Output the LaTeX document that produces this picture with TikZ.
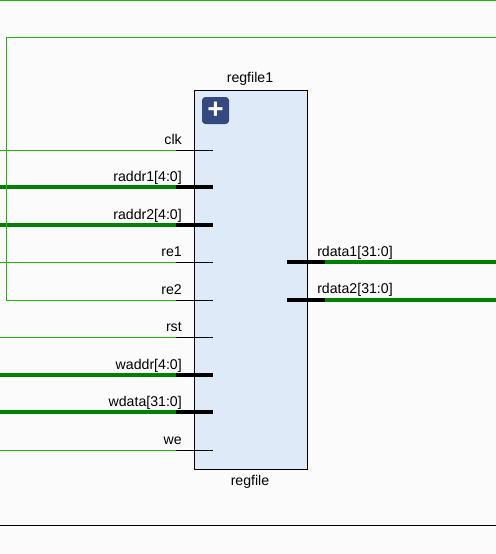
\documentclass[tikz,border=0pt]{standalone}
\usepackage{xcolor}
\usepackage{fontspec}
\setmainfont{Liberation Sans}
\usetikzlibrary{positioning, calc}
\definecolor{canvas}{HTML}{FBFBFB}
\definecolor{blockfill}{HTML}{DFEAF9}
\definecolor{iconblue}{HTML}{34497F}
\definecolor{netgreen}{HTML}{1FB80A}
\definecolor{busgreen}{HTML}{008000}
\begin{document}
\begin{tikzpicture}[
  x=0.75pt, y=-0.75pt,
  block/.style={rectangle, draw=black, fill=blockfill, line width=0.75pt,
                minimum width=84.75pt, minimum height=284.25pt, inner sep=0pt},
  icon/.style={rectangle, rounded corners=2.5pt, fill=iconblue, text=white,
               minimum size=20.25pt, inner sep=0pt, font=\fontsize{21}{21}\selectfont\bfseries},
  blocklabel/.style={font=\fontsize{10.6}{12}\selectfont, text=black, anchor=base, inner sep=0pt},
  inlabel/.style={font=\fontsize{10.6}{12}\selectfont, text=black, anchor=base east, inner sep=0pt},
  outlabel/.style={font=\fontsize{10.6}{12}\selectfont, text=black, anchor=base west, inner sep=0pt},
  net/.style={draw=netgreen, line width=0.75pt},
  bus/.style={draw=busgreen, line width=3pt},
  pin/.style={draw=black, line width=0.75pt},
  buspin/.style={draw=black, line width=3pt},
  frameline/.style={draw=black, line width=0.75pt},
]
\fill[canvas] (0,0) rectangle (496,554);
\useasboundingbox (0,0) rectangle (496,554);
\coordinate (edgeL) at (0,0);
\coordinate (edgeR) at (496,0);
\coordinate (stubL) at (176,0);
\coordinate (tipL)  at (213,0);
\coordinate (stubR) at (325,0);
\coordinate (tipR)  at (287,0);
\coordinate (bend)  at (6.5,37.5);
\node[block] (regfile1) at (251,280.25) {};
\node[icon] (plus) at (215.5,110.5) {+};
\node[blocklabel] (instname) at (250,82) {regfile1};
\node[blocklabel] (cellname) at (250,485) {regfile};
\coordinate (clk)    at (194.5,150.5);
\coordinate (raddr1) at (194.5,186.5);
\coordinate (raddr2) at (194.5,224.5);
\coordinate (re1)    at (194.5,262.5);
\coordinate (re2)    at (194.5,300.5);
\coordinate (rst)    at (194.5,337.5);
\coordinate (waddr)  at (194.5,374.5);
\coordinate (wdata)  at (194.5,411.5);
\coordinate (we)     at (194.5,450.5);
\coordinate (rdata1) at (307.5,262);
\coordinate (rdata2) at (307.5,299.5);
\node[inlabel] (clklabel)    at (182,144.5) {clk};
\node[inlabel] (raddr1label) at (182,181) {raddr1[4:0]};
\node[inlabel] (raddr2label) at (182,219) {raddr2[4:0]};
\node[inlabel] (re1label)    at (182,256.5) {re1};
\node[inlabel] (re2label)    at (182,294.5) {re2};
\node[inlabel] (rstlabel)    at (182,331.5) {rst};
\node[inlabel] (waddrlabel)  at (182,369) {waddr[4:0]};
\node[inlabel] (wdatalabel)  at (182,406) {wdata[31:0]};
\node[inlabel] (welabel)     at (182,444.5) {we};
\node[outlabel] (rdata1label) at (317,256) {rdata1[31:0]};
\node[outlabel] (rdata2label) at (317,293.5) {rdata2[31:0]};
% nets
\draw[net] (clk -| edgeL) -- (clk -| stubL);
\draw[bus] (raddr1 -| edgeL) -- (raddr1 -| stubL);
\draw[bus] (raddr2 -| edgeL) -- (raddr2 -| stubL);
\draw[net] (re1 -| edgeL) -- (re1 -| stubL);
\draw[net] (re2 -| stubL) -- (re2 -| bend) -- (bend) -- (bend -| edgeR);
\draw[net] (rst -| edgeL) -- (rst -| stubL);
\draw[bus] (waddr -| edgeL) -- (waddr -| stubL);
\draw[bus] (wdata -| edgeL) -- (wdata -| stubL);
\draw[net] (we -| edgeL) -- (we -| stubL);
\draw[bus] (rdata1 -| stubR) -- (rdata1 -| edgeR);
\draw[bus] (rdata2 -| stubR) -- (rdata2 -| edgeR);
% pins
\draw[pin] (clk -| stubL) -- (clk -| tipL);
\draw[buspin] (raddr1 -| stubL) -- (raddr1 -| tipL);
\draw[buspin] (raddr2 -| stubL) -- (raddr2 -| tipL);
\draw[pin] (re1 -| stubL) -- (re1 -| tipL);
\draw[pin] (re2 -| stubL) -- (re2 -| tipL);
\draw[pin] (rst -| stubL) -- (rst -| tipL);
\draw[buspin] (waddr -| stubL) -- (waddr -| tipL);
\draw[buspin] (wdata -| stubL) -- (wdata -| tipL);
\draw[pin] (we -| stubL) -- (we -| tipL);
\draw[buspin] (rdata1 -| tipR) -- (rdata1 -| stubR);
\draw[buspin] (rdata2 -| tipR) -- (rdata2 -| stubR);
% page lines
\coordinate (topline) at (0,0.5);
\coordinate (bottomline) at (0,525);
\draw[net] (topline) -- (topline -| edgeR);
\draw[frameline] (bottomline) -- (bottomline -| edgeR);
\end{tikzpicture}
\end{document}
